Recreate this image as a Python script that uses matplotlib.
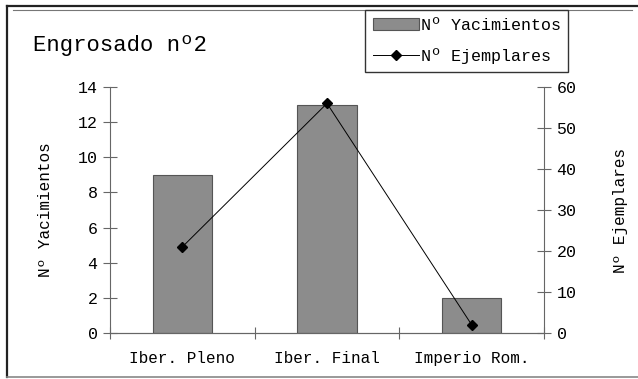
import matplotlib.pyplot as plt
from matplotlib.lines import Line2D

categorias = ["Iber. Pleno", "Iber. Final", "Imperio Rom."]
yacimientos = [9, 13, 2]
ejemplares = [21, 56, 2]

plt.rcParams['font.family'] = ['Liberation Mono', 'DejaVu Sans Mono']

W, H = 638, 379
fig = plt.figure(figsize=(W / 100, H / 100), dpi=100)
ax = fig.add_axes([110 / W, 1 - 333 / H, 434 / W, 246 / H])
ax2 = ax.twinx()

x = range(len(categorias))
barras = ax.bar(x, yacimientos, width=0.41, color='#8c8c8c', edgecolor='#555555',
                linewidth=0.8, label='Nº Yacimientos')
linea, = ax2.plot(x, ejemplares, color='black', linewidth=0.7, marker='D',
                  markersize=5, label='Nº Ejemplares')

ax.set_xlim(-0.5, 2.5)
ax.set_ylim(0, 14)
ax2.set_ylim(0, 60)
ax.set_yticks(range(0, 15, 2))
ax2.set_yticks(range(0, 61, 10))
ax.set_xticks([-0.5, 0.5, 1.5, 2.5])
ax.set_xticklabels([])
ax.tick_params(axis='x', direction='inout', length=8, color='#666666')
for i, c in enumerate(categorias):
    ax.text(i, -0.075, c, transform=ax.get_xaxis_transform(), ha='center',
            va='top', fontsize=11.5)

for a in (ax, ax2):
    a.spines['top'].set_visible(False)
    a.spines['left'].set_color('#666666')
    a.spines['right'].set_color('#666666')
    a.spines['bottom'].set_color('#666666')
    a.tick_params(axis='y', direction='inout', length=10, color='#666666',
                  labelsize=12, pad=4)
ax.spines['right'].set_visible(False)
ax2.spines['left'].set_visible(False)

ax.set_ylabel('Nº Yacimientos', fontsize=11.5, labelpad=18)
ax2.set_ylabel('Nº Ejemplares', fontsize=11.5, labelpad=26)

fig.text(33 / W, 1 - 45 / H, 'Engrosado nº2', fontsize=16, va='center')


def px_line(x0, y0, x1, y1, **kw):
    fig.add_artist(Line2D([x0 / W, x1 / W], [1 - y0 / H, 1 - y1 / H],
                          transform=fig.transFigure, **kw))


# marco exterior
px_line(7, 6, W, 6, color='#222222', linewidth=1.6)
px_line(7, 6, 7, 377, color='#222222', linewidth=1.6)
px_line(7, 377, W, 377, color='#888888', linewidth=1.2)
px_line(13, 9.5, 632, 9.5, color='#777777', linewidth=0.8)

fig.legend(handles=[barras, linea], loc='upper left',
           bbox_to_anchor=(365 / W, 1 - 10 / H), fontsize=12,
           frameon=True, fancybox=False, edgecolor='#333333', framealpha=1,
           borderpad=0.45, handlelength=2.8, labelspacing=0.95, handletextpad=0.1,
           borderaxespad=0)

fig.savefig('out.png', dpi=100)
